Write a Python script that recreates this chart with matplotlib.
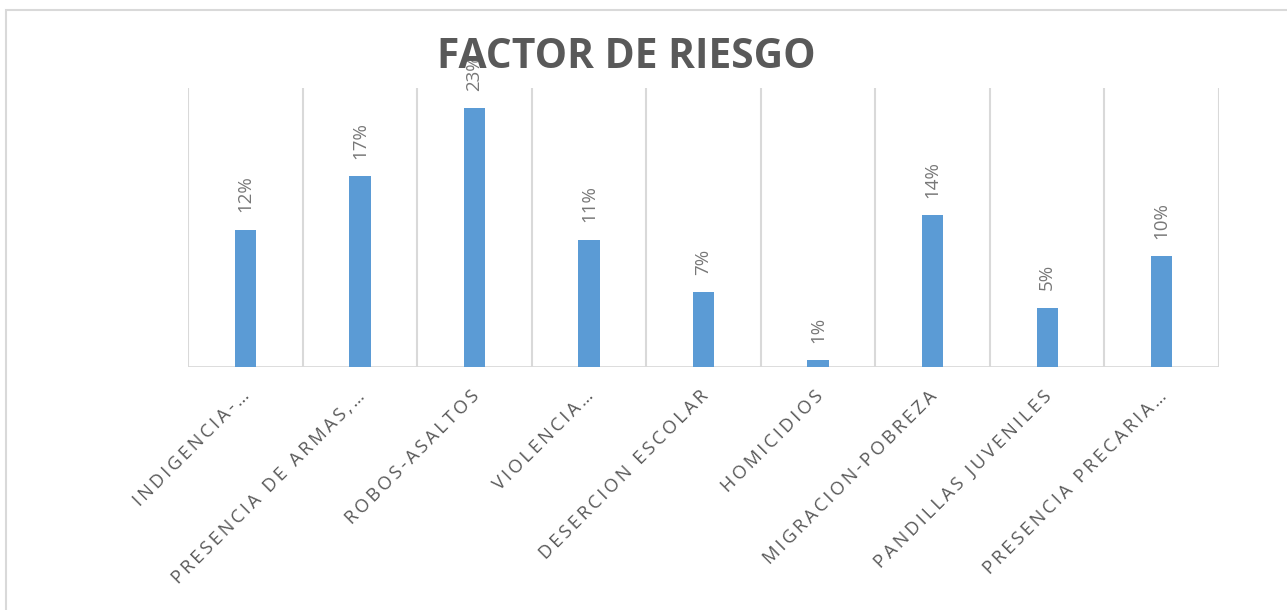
import matplotlib
matplotlib.use("Agg")
import matplotlib.pyplot as plt
import matplotlib.transforms as mtransforms
from matplotlib.patches import Rectangle

plt.rcParams['font.family'] = ['Open Sans', 'DejaVu Sans']

# data (percent)
categories = ['INDIGENCIA-…', 'PRESENCIA DE ARMAS,…', 'ROBOS-ASALTOS', 'VIOLENCIA…',
              'DESERCION ESCOLAR', 'HOMICIDIOS', 'MIGRACION-POBREZA',
              'PANDILLAS JUVENILES', 'PRESENCIA PRECARIA…']
values = [12.3, 17.1, 23.2, 11.4, 6.7, 0.6, 13.6, 5.3, 9.9]
title = 'FACTOR DE RIESGO'

bar_color = '#5B9BD5'
grid_color = '#D9D9D9'


def spaced(text):
    # Excel-style letter spacing on the category labels (thin spaces)
    return '\u2009'.join(text)


fig = plt.figure(figsize=(12.87, 6.10), dpi=100)
ax = fig.add_axes([0.1461, 0.3984, 0.8011, 0.4574])

x = list(range(len(categories)))
bars = ax.bar(x, values, width=0.186, color=bar_color, zorder=3)

ax.set_xlim(-0.5, len(categories) - 0.5)
ax.set_ylim(0, 25)

# vertical separators between categories
for b in range(len(categories) + 1):
    ax.axvline(b - 0.5, color=grid_color, lw=1.5, zorder=1)
ax.axhline(0, color=grid_color, lw=2, zorder=2)

for s in ax.spines.values():
    s.set_visible(False)
ax.set_yticks([])

# data labels, rotated
for xi, v in zip(x, values):
    ax.annotate(f'{round(v)}%', (xi, v), xytext=(0, 12.5), textcoords='offset points',
                rotation=90, ha='center', va='bottom', fontsize=13.5,
                color='#777777', annotation_clip=False, zorder=5)

ax.set_xticks(x, labels=[spaced(c) for c in categories])
ax.tick_params(axis='x', length=0, pad=19)
offset = mtransforms.ScaledTranslation(2 / 100, 0, fig.dpi_scale_trans)
for lab in ax.get_xticklabels():
    lab.set_rotation(45)
    lab.set_rotation_mode('anchor')
    lab.set_ha('right')
    lab.set_va('center')
    lab.set_fontsize(13.2)
    lab.set_color('#595959')
    lab.set_transform(lab.get_transform() + offset)

fig.text(0.4868, 0.8885, title, ha='center', va='baseline', fontsize=29.3,
         fontweight='bold', color='#595959')

# chart frame (cropped on the right and bottom)
fig.patches.append(Rectangle((6 / 1287, -0.1), 1.2, 1.1 - 10 / 610,
                             transform=fig.transFigure, fill=False,
                             edgecolor=grid_color, lw=1.5))

fig.savefig('out.png', dpi=100)
